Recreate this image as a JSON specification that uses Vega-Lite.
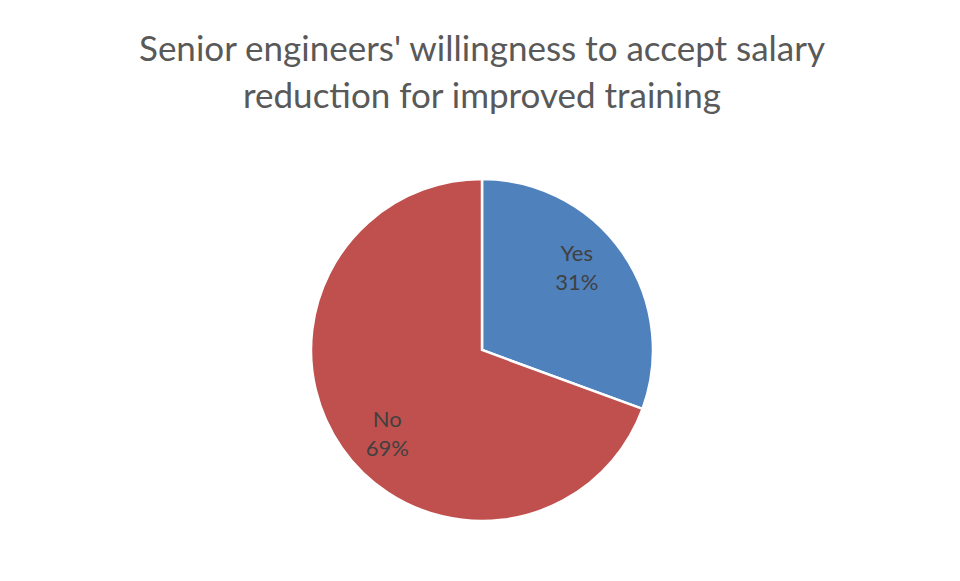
{
  "$schema": "https://vega.github.io/schema/vega-lite/v6.json",
  "autosize": {"type": "none"},
  "padding": {"left": 2, "top": 130, "right": 0, "bottom": 0},
  "width": 960,
  "height": 440,
  "background": "white",
  "title": {
    "text": ["Senior engineers' willingness to accept salary", "reduction for improved training"],
    "font": "Lato",
    "fontSize": 35,
    "fontWeight": "normal",
    "color": "#595959",
    "lineHeight": 47,
    "anchor": "middle",
    "offset": 15,
    "frame": "group"
  },
  "data": {
    "values": [
      {"answer": "Yes", "share": 30.6, "label": "Yes\n31%"},
      {"answer": "No", "share": 69.4, "label": "No\n69%"}
    ]
  },
  "encoding": {
    "theta": {"field": "share", "type": "quantitative", "stack": true},
    "order": {"field": "answer", "type": "nominal", "sort": "descending"},
    "color": {
      "field": "answer",
      "type": "nominal",
      "scale": {"domain": ["Yes", "No"], "range": ["#4F81BD", "#C0504D"]},
      "legend": null
    }
  },
  "layer": [
    {
      "mark": {"type": "arc", "outerRadius": 171, "stroke": "white", "strokeWidth": 2.5},
      "encoding": {}
    },
    {
      "mark": {"type": "text", "radius": 126, "thetaOffset": -0.11, "dy": -13, "font": "Lato", "fontSize": 22, "lineBreak": "\n", "lineHeight": 29, "align": "center", "baseline": "middle"},
      "encoding": {
        "text": {"field": "label", "type": "nominal"},
        "color": {"value": "#404040"}
      }
    }
  ],
  "config": {"view": {"stroke": null}}
}
